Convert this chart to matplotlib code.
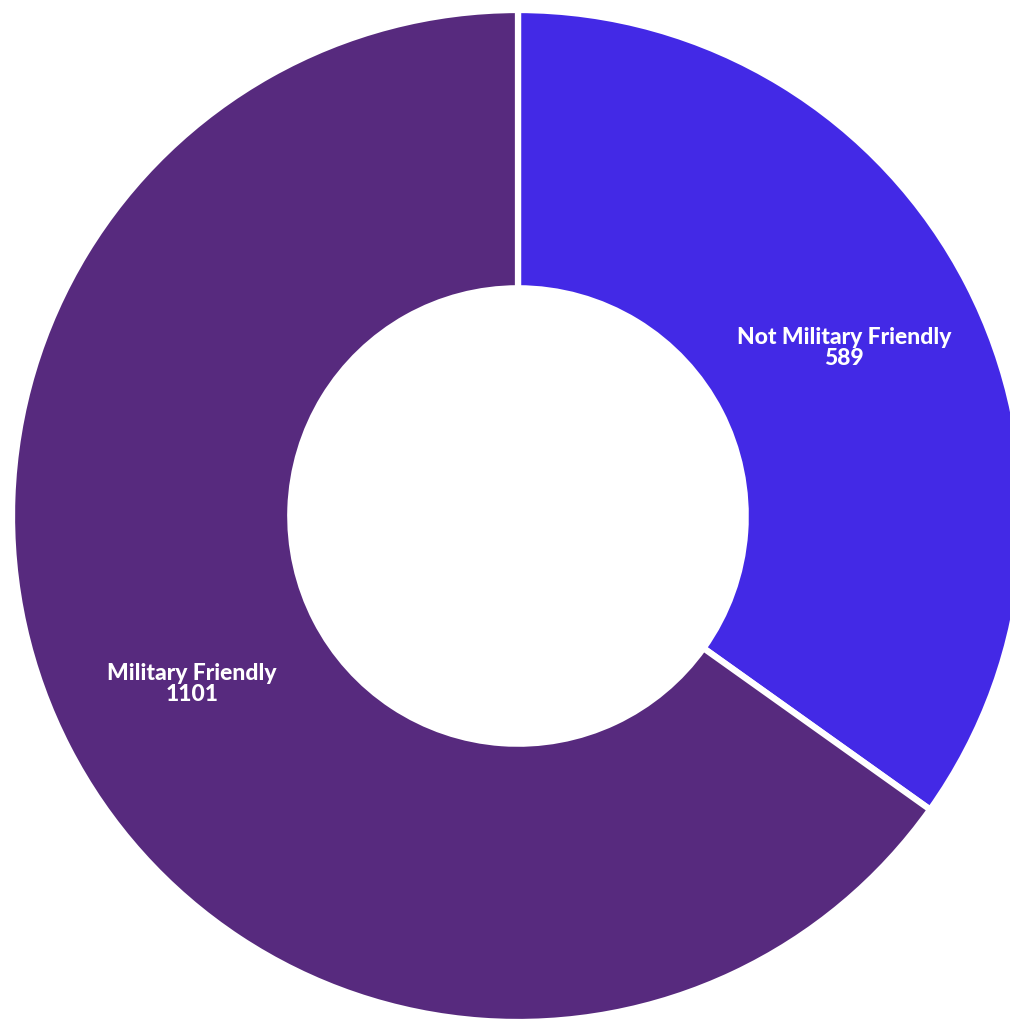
import matplotlib
matplotlib.use("Agg")
import matplotlib.pyplot as plt

labels = ["Not Military Friendly", "Military Friendly"]
values = [589, 1101]
colors = ["#4329E6", "#572A7E"]

fig = plt.figure(figsize=(10.10, 10.25), dpi=100)
ax = fig.add_axes([12 / 1010, 3 / 1025, 1012 / 1010, 1012 / 1025])

wedges, texts = ax.pie(
    values,
    labels=[f"{l}\n{v}" for l, v in zip(labels, values)],
    colors=colors,
    startangle=90,
    counterclock=False,
    radius=1,
    labeldistance=0.725,
    wedgeprops=dict(width=0.55, edgecolor="white", linewidth=4.5),
)
for t in texts:
    t.set_ha("center")
    t.set_va("center")
    t.set_color("white")
    t.set_fontweight("black")
    t.set_fontsize(16.5)
    t.set_family(["Lato", "DejaVu Sans"])
    t.set_linespacing(1.0)

ax.set_xlim(-1, 1)
ax.set_ylim(-1, 1)
ax.set_aspect("equal")
ax.axis("off")

plt.savefig("out.png", dpi=100, facecolor="white")
